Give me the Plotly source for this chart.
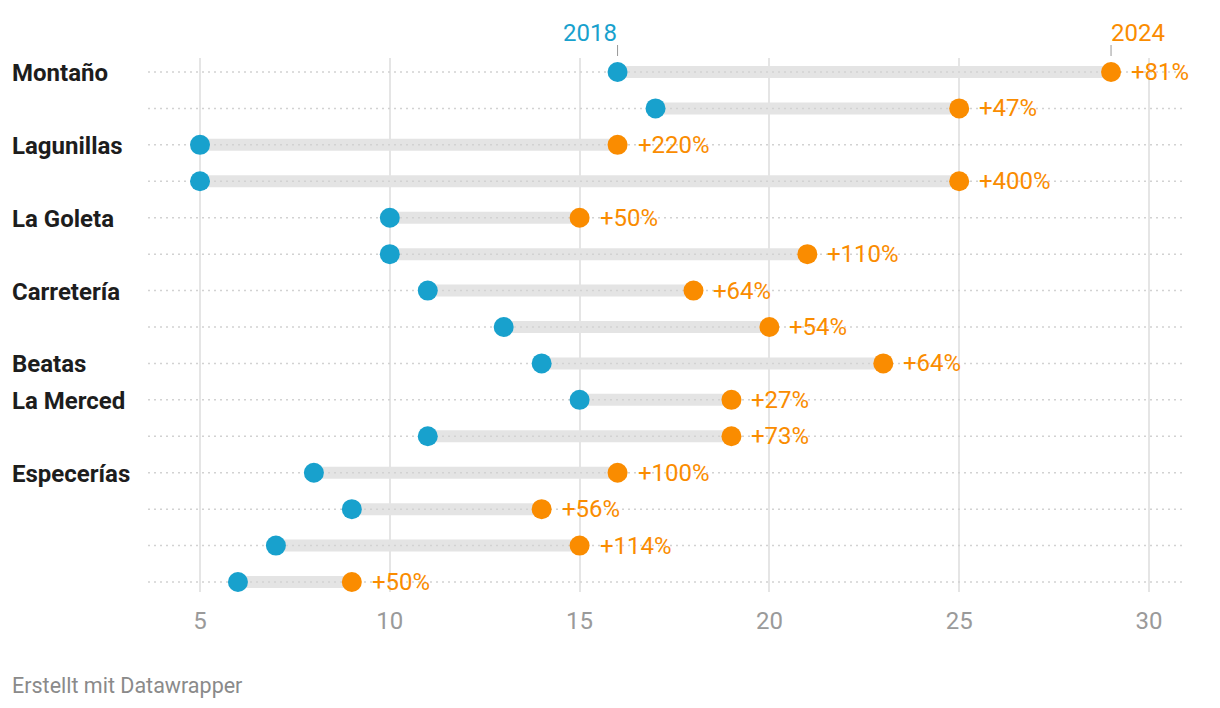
import plotly.graph_objects as go

labels = ["Montaño", "", "Lagunillas", "", "La Goleta", "", "Carretería", "",
          "Beatas", "La Merced", "", "Especerías", "", "", ""]
v2018 = [16, 17, 5, 5, 10, 10, 11, 13, 14, 15, 11, 8, 9, 7, 6]
v2024 = [29, 25, 16, 25, 15, 21, 18, 20, 23, 19, 19, 16, 14, 15, 9]
change = ["+81%", "+47%", "+220%", "+400%", "+50%", "+110%", "+64%", "+54%",
          "+64%", "+27%", "+73%", "+100%", "+56%", "+114%", "+50%"]
xticks = [5, 10, 15, 20, 25, 30]

BLUE = "#18a1cd"
ORANGE = "#fa8c00"
rows = list(range(len(labels)))

W, H = 1220, 708
ml, mr, mt, mb = 148, 34, 58, 116
xr = [5 - 52 / 37.96, 30 + 37 / 37.96]
px_per_row = (581 - 71) / 14

fig = go.Figure()

# range bars
bx, by = [], []
for r, a, b in zip(rows, v2018, v2024):
    bx += [a, b, None]
    by += [r, r, None]
fig.add_trace(go.Scatter(x=bx, y=by, mode="lines",
                         line=dict(color="#e4e4e4", width=12),
                         hoverinfo="skip", showlegend=False))
# dotted row guides (above bars, below dots)
gx, gy = [], []
for r in rows:
    gx += [xr[0], xr[1], None]
    gy += [r, r, None]
fig.add_trace(go.Scatter(x=gx, y=gy, mode="lines",
                         line=dict(color="#d2d2d2", width=1.5, dash="2px,4px"),
                         hoverinfo="skip", showlegend=False))
fig.add_trace(go.Scatter(x=v2018, y=rows, mode="markers", name="2018",
                         marker=dict(color=BLUE, size=20, line=dict(width=0)),
                         showlegend=False))
fig.add_trace(go.Scatter(x=v2024, y=rows, mode="markers", name="2024",
                         marker=dict(color=ORANGE, size=20, line=dict(width=0)),
                         showlegend=False))

ann = []
pw = W - ml - mr
for r, lab in zip(rows, labels):
    if lab:
        ann.append(dict(x=(10 - ml) / pw, xref="paper", y=r, yref="y",
                        text=f"<b>{lab}</b>", showarrow=False, xanchor="left",
                        yanchor="middle", yshift=-1,
                        font=dict(family="Roboto", size=24, color="#1d1d1d")))
for r, b, c in zip(rows, v2024, change):
    ann.append(dict(x=b, y=r, xref="x", yref="y", text=c, showarrow=False,
                    xanchor="left", yanchor="middle", xshift=18,
                    font=dict(family="Roboto", size=24, color=ORANGE)))

# header labels
ann.append(dict(x=v2018[0], y=0, xref="x", yref="y", text="2018", showarrow=False,
                xanchor="right", yanchor="middle", xshift=1, yshift=39,
                font=dict(family="Roboto", size=24, color=BLUE)))
ann.append(dict(x=v2024[0], y=0, xref="x", yref="y", text="2024", showarrow=False,
                xanchor="left", yanchor="middle", xshift=-2, yshift=39,
                font=dict(family="Roboto", size=24, color=ORANGE)))
ann.append(dict(x=(10 - ml) / pw, xref="paper", y=(H - mb - 685) / (H - mt - mb),
                yref="paper", text="Erstellt mit Datawrapper", showarrow=False,
                xanchor="left", yanchor="middle",
                font=dict(family="Roboto", size=21.5, color="#8a8a8a")))

shapes = []
for v in (v2018[0], v2024[0]):
    shapes.append(dict(type="line", xref="x", yref="paper", x0=v, x1=v,
                       y0=1.0 + 2 / (H - mt - mb), y1=1.0 + 13 / (H - mt - mb),
                       line=dict(color="#999999", width=1)))

fig.update_layout(
    width=W, height=H, margin=dict(l=ml, r=mr, t=mt, b=mb),
    plot_bgcolor="white", paper_bgcolor="white",
    annotations=ann, shapes=shapes,
    xaxis=dict(range=xr, tickvals=xticks,
               showgrid=True, gridcolor="#e5e5e5", gridwidth=2,
               zeroline=False, showline=False, ticks="",
               tickfont=dict(family="Roboto", size=24, color="#9a9a9a"),
               ticklabelstandoff=12),
    yaxis=dict(range=[14 + 10 / px_per_row, -14 / px_per_row], tickvals=rows,
               showticklabels=False, showgrid=False, zeroline=False, showline=False),
    font=dict(family="Roboto"),
)
fig.write_html("out.html", config={"displayModeBar": False},
               post_script="document.body.style.margin='0';")
